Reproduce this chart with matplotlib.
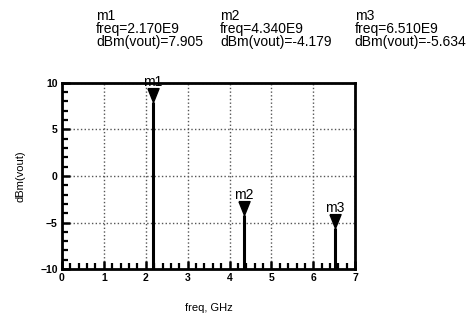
import matplotlib.pyplot as plt
from matplotlib.ticker import MultipleLocator

plt.rcParams['font.family'] = ['Liberation Sans', 'DejaVu Sans']

# marker data
names = ['m1', 'm2', 'm3']
freq_ghz = [2.170, 4.340, 6.510]
dbm = [7.905, -4.179, -5.634]
freq_text = ['2.170E9', '4.340E9', '6.510E9']

fig = plt.figure(figsize=(4.73, 3.25), dpi=100)
ax = fig.add_axes([0.131, 0.172, 0.620, 0.573])

# triangle marker with its tip at the data point
tri = [(-0.6, 1.5), (0.6, 1.5), (0, 0), (-0.6, 1.5)]

for n, f, d in zip(names, freq_ghz, dbm):
    ax.vlines(f, -10, d, color='black', lw=2.2)
    ax.plot(f, d, marker=tri, markersize=20, color='black', linestyle='none')
    ax.annotate(n, (f, d), xytext=(0, 9.5), textcoords='offset points',
                ha='center', va='bottom', fontsize=10)

ax.set_xlim(0, 7)
ax.set_ylim(-10, 10)
ax.xaxis.set_major_locator(MultipleLocator(1))
ax.xaxis.set_minor_locator(MultipleLocator(0.2))
ax.yaxis.set_major_locator(MultipleLocator(5))
ax.yaxis.set_minor_locator(MultipleLocator(1))
ax.tick_params(which='major', direction='in', length=6, width=1.8, labelsize=7.5, pad=3)
ax.tick_params(which='minor', direction='in', length=4, width=1.6)
for lab in ax.get_xticklabels() + ax.get_yticklabels():
    lab.set_fontweight('bold')
for s in ax.spines.values():
    s.set_linewidth(2)
ax.grid(True, which='major', color='#555555', linestyle=':', linewidth=1)

ax.set_xlabel('freq, GHz', fontsize=8, labelpad=14)
ax.set_ylabel('dBm(vout)', fontsize=8, labelpad=11)

# marker readouts above the plot
xs = [0.203, 0.465, 0.750]
for n, ft, d, x in zip(names, freq_text, dbm, xs):
    fig.text(x, 0.972, n + '\nfreq=' + ft + '\ndBm(vout)=' + f'{d:.3f}',
             ha='left', va='top', fontsize=10, linespacing=0.92)

fig.savefig('out.png', dpi=100)
